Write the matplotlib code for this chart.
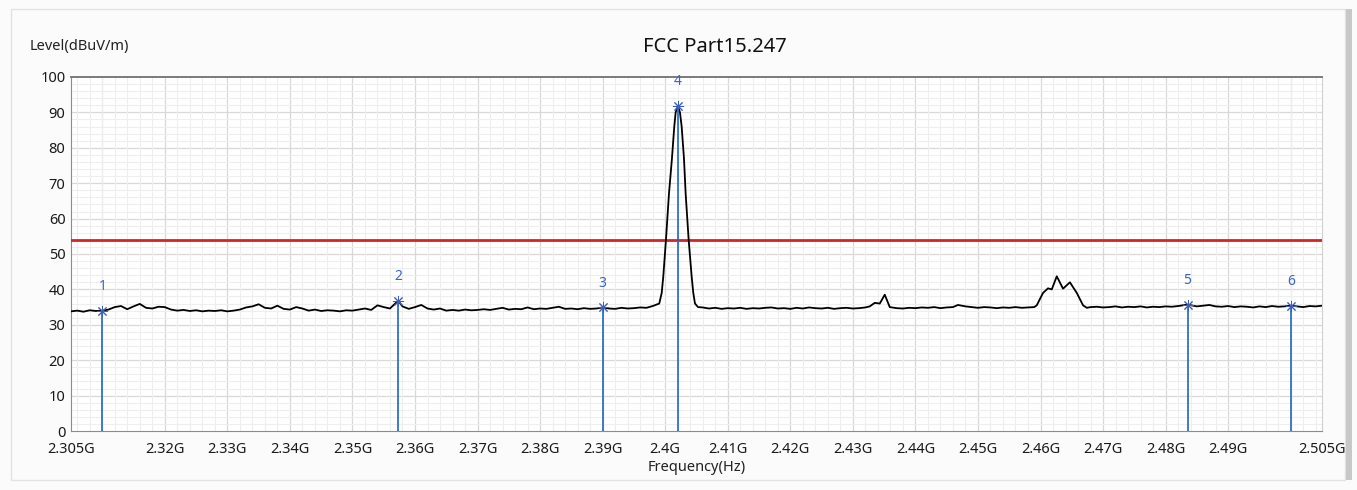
import numpy as np
import matplotlib.pyplot as plt
from matplotlib.ticker import MultipleLocator
from matplotlib.patches import Rectangle

plt.rcParams['font.family'] = ['Noto Sans', 'DejaVu Sans']

# trace (GHz, dBuV/m)
freq = [
    2.305, 2.306, 2.307, 2.308, 2.309, 2.310, 2.311, 2.312, 2.313, 2.314,
    2.315, 2.316, 2.317, 2.318, 2.319, 2.320, 2.321, 2.322, 2.323, 2.324,
    2.325, 2.326, 2.327, 2.328, 2.329, 2.330, 2.331, 2.332, 2.333, 2.334,
    2.335, 2.336, 2.337, 2.338, 2.339, 2.340, 2.341, 2.342, 2.343, 2.344,
    2.345, 2.346, 2.347, 2.348, 2.349, 2.350, 2.351, 2.352, 2.353, 2.354,
    2.355, 2.356, 2.3573, 2.358, 2.359, 2.360, 2.361, 2.362, 2.363, 2.364,
    2.365, 2.366, 2.367, 2.368, 2.369, 2.370, 2.371, 2.372, 2.373, 2.374,
    2.375, 2.376, 2.377, 2.378, 2.379, 2.380, 2.381, 2.382, 2.383, 2.384,
    2.385, 2.386, 2.387, 2.388, 2.389, 2.390, 2.391, 2.392, 2.393, 2.394,
    2.395, 2.396, 2.397, 2.398,
    2.39905, 2.39944, 2.39969, 2.40012, 2.40060, 2.40108, 2.40145, 2.40167,
    2.40204, 2.40236, 2.40263, 2.40300, 2.40327, 2.40375, 2.40423, 2.40449,
    2.40476, 2.40524,
    2.406, 2.407, 2.408, 2.409, 2.410, 2.411, 2.412, 2.413, 2.414, 2.415,
    2.416, 2.417, 2.418, 2.419, 2.420, 2.421, 2.422, 2.423, 2.424, 2.425,
    2.426, 2.427, 2.428, 2.429, 2.430, 2.431, 2.432, 2.4327, 2.4335, 2.4343,
    2.4351, 2.4359, 2.437, 2.438, 2.439, 2.440, 2.441, 2.442, 2.443, 2.444,
    2.445, 2.446, 2.4468, 2.448, 2.449, 2.450, 2.451, 2.452, 2.453, 2.454,
    2.455, 2.456, 2.457, 2.458, 2.459, 2.4594, 2.4604, 2.4612, 2.4618, 2.4626,
    2.4636, 2.4647, 2.4658, 2.4668, 2.4674, 2.468, 2.469, 2.470, 2.471, 2.472,
    2.473, 2.474, 2.475, 2.476, 2.477, 2.478, 2.479, 2.480, 2.481, 2.482,
    2.4835, 2.485, 2.486, 2.487, 2.488, 2.489, 2.490, 2.491, 2.492, 2.493,
    2.494, 2.495, 2.496, 2.497, 2.498, 2.499, 2.500, 2.501, 2.502, 2.503,
    2.504, 2.505,
]
level = [
    33.8, 34.0, 33.7, 34.1, 33.9, 34.0, 34.3, 35.0, 35.3, 34.4,
    35.2, 35.9, 34.8, 34.6, 35.1, 35.0, 34.3, 34.0, 34.2, 33.9,
    34.1, 33.8, 34.0, 33.9, 34.1, 33.8, 34.0, 34.3, 34.9, 35.2,
    35.8, 34.8, 34.6, 35.4, 34.5, 34.3, 35.0, 34.6, 34.0, 34.3,
    33.9, 34.1, 34.0, 33.8, 34.1, 34.0, 34.3, 34.6, 34.2, 35.5,
    35.0, 34.6, 36.8, 35.2, 34.5, 35.0, 35.6, 34.6, 34.3, 34.6,
    34.0, 34.2, 34.0, 34.3, 34.1, 34.2, 34.4, 34.2, 34.5, 34.8,
    34.3, 34.5, 34.4, 34.9, 34.4, 34.6, 34.5, 34.8, 35.1, 34.5,
    34.6, 34.4, 34.7, 34.5, 34.6, 34.9, 34.6, 34.5, 34.8, 34.6,
    34.7, 34.9, 34.8, 35.3,
    36.0, 39.0, 43.6, 54.0, 67.0, 77.0, 86.0, 90.0,
    91.8, 90.0, 86.0, 77.0, 67.0, 54.0, 43.6, 39.0,
    36.0, 35.0,
    34.9, 34.6, 34.8, 34.5, 34.7, 34.6, 34.8, 34.5, 34.7, 34.6,
    34.8, 34.9, 34.6, 34.7, 34.5, 34.8, 34.6, 34.9, 34.7, 34.6,
    34.8, 34.5, 34.7, 34.8, 34.6, 34.7, 34.9, 35.2, 36.2, 36.0,
    38.5, 35.0, 34.7, 34.6, 34.8, 34.7, 34.9, 34.8, 35.0, 34.7,
    34.9, 35.0, 35.6, 35.2, 35.0, 34.8, 35.0, 34.9, 34.7, 34.9,
    34.8, 35.0, 34.8, 34.9, 35.0, 35.5, 39.0, 40.3, 40.0, 43.7,
    40.2, 42.0, 39.0, 35.5, 34.8, 35.0, 35.1, 34.9, 35.0, 35.2,
    34.9, 35.1, 35.0, 35.2, 34.9, 35.1, 35.0, 35.2, 35.1, 35.3,
    35.7, 35.2, 35.4, 35.6, 35.2, 35.1, 35.3, 35.0, 35.2, 35.1,
    34.9, 35.2, 35.0, 35.3, 35.1, 35.2, 35.4, 35.2, 35.0, 35.3,
    35.2, 35.4,
]

limit = 54.0

marker_freq = [2.310, 2.3573, 2.390, 2.4020, 2.4835, 2.500]
marker_level = [34.0, 36.8, 34.9, 91.8, 35.7, 35.4]
marker_name = ["1", "2", "3", "4", "5", "6"]

tick_pos = [2.305, 2.32, 2.33, 2.34, 2.35, 2.36, 2.37, 2.38, 2.39, 2.40,
            2.41, 2.42, 2.43, 2.44, 2.45, 2.46, 2.47, 2.48, 2.49, 2.505]
tick_lbl = ["2.305G", "2.32G", "2.33G", "2.34G", "2.35G", "2.36G", "2.37G",
            "2.38G", "2.39G", "2.4G", "2.41G", "2.42G", "2.43G", "2.44G",
            "2.45G", "2.46G", "2.47G", "2.48G", "2.49G", "2.505G"]

fig = plt.figure(figsize=(13.57, 4.90), dpi=100, facecolor="#fbfbfb")
fig.patches.append(Rectangle((0.008, 0.02), 0.983, 0.962, transform=fig.transFigure,
                             fill=False, edgecolor="#e2e2e2", linewidth=1.0))
fig.patches.append(Rectangle((0.992, 0.02), 0.004, 0.962, transform=fig.transFigure,
                             facecolor="#c8c8c8", edgecolor="none"))

ax = fig.add_axes([0.0523, 0.1204, 0.9219, 0.7225])
ax.set_facecolor("white")
ax.set_xlim(2.305, 2.505)
ax.set_ylim(0, 100)

# grid: minor every 2 MHz / 2 dB, major every 10 MHz / 10 dB
ax.xaxis.set_minor_locator(MultipleLocator(0.002))
ax.yaxis.set_minor_locator(MultipleLocator(2))
ax.grid(which="minor", color="#eeeeee", linewidth=0.8)
for g in np.arange(2.31, 2.5005, 0.01):
    ax.axvline(g, color="#d8d8d8", linewidth=0.9, zorder=0.5)
for g in range(10, 100, 10):
    ax.axhline(g, color="#d8d8d8", linewidth=0.9, zorder=0.5)
ax.set_axisbelow(True)

ax.set_xticks(tick_pos)
ax.set_xticklabels(tick_lbl)
ax.set_yticks(range(0, 101, 10))
ax.tick_params(which="both", length=0, labelsize=10.5, colors="#1a1a1a")
ax.tick_params(axis="x", pad=8)
ax.tick_params(axis="y", pad=4)

for s in ["left", "bottom"]:
    ax.spines[s].set_color("#8c8c8c")
ax.spines["top"].set_color("#7a7a7a")
ax.spines["top"].set_linewidth(1.4)
ax.spines["right"].set_color("#d0d0d0")

ax.axhline(limit, color="#d42424", linewidth=2.0, zorder=3)
ax.plot(freq, level, color="black", linewidth=1.3, zorder=4)

for f, l, n in zip(marker_freq, marker_level, marker_name):
    ax.vlines(f, 0, l, color="#1f66c2", linewidth=1.2, zorder=5)
    ax.plot(f, l, marker=(8, 2, 0), markersize=8, color="#3a5fb8",
            markeredgewidth=0.7, zorder=6)
    ax.annotate(n, (f, l), xytext=(0, 12), textcoords="offset points",
                ha="center", va="bottom", color="#3a64c8", fontsize=10)

ax.set_xlabel("Frequency(Hz)", fontsize=10.5, color="#222222", labelpad=2)
fig.text(0.022, 0.905, "Level(dBuV/m)", fontsize=10.5, color="#222222",
         ha="left", va="center")
fig.text(0.527, 0.904, "FCC Part15.247", fontsize=14.5, color="#111111",
         ha="center", va="center")

fig.savefig("out.png", dpi=100, facecolor=fig.get_facecolor())
